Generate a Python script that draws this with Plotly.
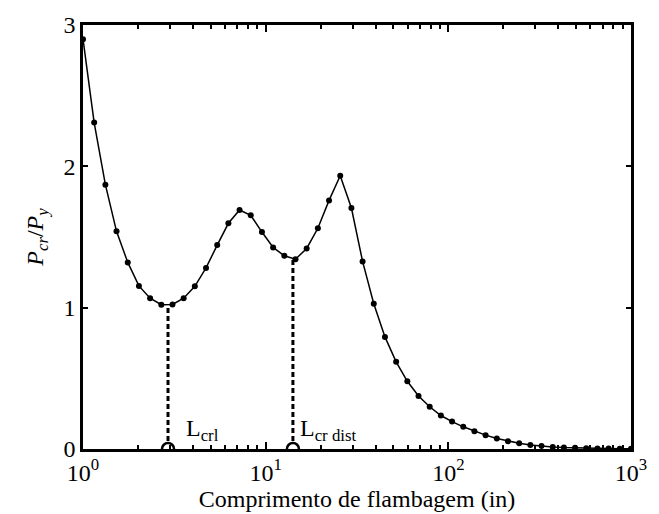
import math
import plotly.graph_objects as go

# Buckling half-wavelength (in) and load ratio Pcr/Py
length_in = [1.000, 1.151, 1.326, 1.526, 1.758, 2.024, 2.330, 2.683, 3.089, 3.556,
             4.095, 4.715, 5.429, 6.251, 7.197, 8.286, 9.541, 10.985, 12.649, 14.563,
             16.768, 19.307, 22.230, 25.595, 29.471, 33.932, 39.069, 44.984, 51.795, 59.636,
             68.665, 79.060, 91.029, 104.81, 120.68, 138.95, 159.99, 184.21, 212.10, 244.21,
             281.19, 323.76, 372.76, 429.20, 494.17, 568.99, 655.13, 754.31, 868.51, 1000.0]
pcr_py = [2.90, 2.31, 1.87, 1.54, 1.32, 1.154, 1.067, 1.021, 1.023, 1.067,
          1.151, 1.281, 1.443, 1.597, 1.691, 1.654, 1.535, 1.426, 1.367, 1.343,
          1.419, 1.562, 1.759, 1.933, 1.705, 1.327, 1.028, 0.793, 0.617, 0.479,
          0.375, 0.299, 0.237, 0.194, 0.157, 0.125, 0.098, 0.075, 0.055, 0.040,
          0.029, 0.021, 0.015, 0.011, 0.008, 0.006, 0.004, 0.003, 0.002, 0.001]

# Critical lengths and minima
crit_lengths = [2.92, 14.1]
crit_values = [1.02, 1.34]
crit_labels = ["L<sub>crl</sub>", "L<sub>cr dist</sub>"]
label_x = [3.55, 15.0]

x_tickvals = [1, 10, 100, 1000]
x_ticktext = ["10<sup>0</sup>", "10<sup>1</sup>", "10<sup>2</sup>", "10<sup>3</sup>"]
y_tickvals = [0, 1, 2, 3]
minor_vals = [m * d for d in (1, 10, 100) for m in range(2, 10)]

FONT = "Liberation Serif, Times New Roman, serif"

fig = go.Figure()

for L, P in zip(crit_lengths, crit_values):
    fig.add_trace(go.Scatter(x=[L, L], y=[0, P], mode="lines",
                             line=dict(color="black", width=3, dash="5px,3px"),
                             showlegend=False, hoverinfo="skip"))

fig.add_trace(go.Scatter(x=length_in, y=pcr_py, mode="lines+markers",
                         line=dict(color="black", width=1.5),
                         marker=dict(color="black", size=6),
                         showlegend=False))

fig.add_trace(go.Scatter(x=crit_lengths, y=[0, 0], mode="markers",
                         marker=dict(symbol="circle", size=12, color="white",
                                     line=dict(color="black", width=2.5)),
                         showlegend=False))

for lx, txt in zip(label_x, crit_labels):
    fig.add_annotation(x=math.log10(lx), y=0.0, xref="x", yref="y", text=txt,
                       showarrow=False, xanchor="left", yanchor="bottom", yshift=2,
                       font=dict(family=FONT, size=24, color="black"))

fig.update_layout(
    width=659, height=514,
    margin=dict(l=83, r=28, t=18, b=62),
    paper_bgcolor="white", plot_bgcolor="white",
    font=dict(family=FONT, size=24, color="black"),
)

fig.update_xaxes(
    type="log", range=[0, 3],
    tickmode="array", tickvals=x_tickvals, ticktext=x_ticktext,
    ticks="inside", ticklen=7, tickwidth=2, tickcolor="black",
    minor=dict(tickmode="array", tickvals=minor_vals, ticks="inside", ticklen=4,
               tickwidth=1.5, tickcolor="black"),
    showline=True, linecolor="black", linewidth=2.5, mirror="ticks",
    showgrid=False, zeroline=False,
    tickfont=dict(family=FONT, size=24),
    title=dict(text="Comprimento de flambagem (in)", font=dict(family=FONT, size=24), standoff=0),
)

fig.update_yaxes(
    range=[0, 3], tickvals=y_tickvals,
    ticks="inside", ticklen=5, tickwidth=2, tickcolor="black",
    showline=True, linecolor="black", linewidth=2.5, mirror="ticks",
    showgrid=False, zeroline=False,
    tickfont=dict(family=FONT, size=24),
    title=dict(text="<i>P<sub>cr</sub></i>/<i>P<sub>y</sub></i>", font=dict(family=FONT, size=24), standoff=14),
)

fig.write_html("out.html")
